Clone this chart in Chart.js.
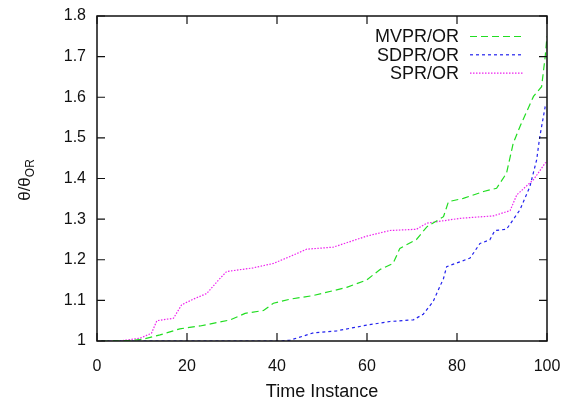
<!DOCTYPE html>
<html>
<head>
<meta charset="utf-8">
<script src="https://cdn.jsdelivr.net/npm/chart.js@4/dist/chart.umd.min.js"></script>
<style>
    html, body { margin: 0; padding: 0; background: #fff; }
    #wrap { width: 568px; height: 403px; }
</style>
</head>
<body>
<div id="wrap"><canvas id="ratioChart" width="568" height="403"></canvas></div>
<script>
// time instances and ratios for each scheme
const mvprTime = [1, 3, 7, 10, 14, 18.4, 22.9, 29.6, 32.9, 37, 39.2, 42.9, 48.1, 55.5, 59.9, 62.9, 65.8, 67.3, 71, 73.3, 77, 78.1, 81.4, 85.9, 88.8, 91, 92.5, 94, 97, 98.8, 99.6, 100];
const mvprValue = [1, 1, 1.001, 1.004, 1.015, 1.03, 1.037, 1.052, 1.068, 1.075, 1.093, 1.103, 1.112, 1.132, 1.15, 1.176, 1.191, 1.228, 1.25, 1.281, 1.306, 1.343, 1.351, 1.368, 1.376, 1.413, 1.487, 1.528, 1.602, 1.626, 1.70, 1.75];

const sdprTime = [1, 41, 42.9, 48.1, 53.3, 59.9, 65.1, 70.3, 72.5, 74.7, 77, 77.7, 82.9, 85.1, 87.3, 88.4, 91, 94, 96.2, 97.7, 98.4, 99.6, 100];
const sdprValue = [1, 1, 1.002, 1.02, 1.025, 1.039, 1.048, 1.052, 1.066, 1.097, 1.154, 1.183, 1.204, 1.24, 1.249, 1.272, 1.275, 1.323, 1.38, 1.446, 1.503, 1.577, 1.58];

const sprTime = [1, 5, 9.6, 12.1, 13.3, 17, 18.8, 21.4, 24.4, 27, 28.8, 34.7, 39.2, 42.9, 46.6, 52.5, 59.9, 65.1, 71, 73.3, 80.7, 88.1, 91.8, 93.3, 97, 99.6, 100];
const sprValue = [1, 1, 1.007, 1.019, 1.05, 1.056, 1.089, 1.103, 1.117, 1.15, 1.171, 1.18, 1.191, 1.208, 1.226, 1.231, 1.258, 1.272, 1.275, 1.29, 1.302, 1.308, 1.321, 1.36, 1.397, 1.438, 1.44];

const seriesNames = ['MVPR/OR', 'SDPR/OR', 'SPR/OR'];
const seriesColors = ['#22dd22', '#2222ee', '#ee22ee'];
const seriesDashes = [[7, 4], [3, 3], [1.5, 1.5]];

const xTicks = [0, 20, 40, 60, 80, 100];
const yTicks = [1, 1.1, 1.2, 1.3, 1.4, 1.5, 1.6, 1.7, 1.8];

const FONT = 'Liberation Sans, Arial, sans-serif';

function toPoints(times, values) {
    return times.map((t, i) => ({x: t, y: values[i]}));
}

// gnuplot style frame with inward ticks on all four sides
const frameTicks = {
    id: 'frameTicks',
    afterDatasetsDraw(chart) {
        const {ctx, chartArea: a, scales} = chart;
        ctx.save();
        ctx.strokeStyle = '#111';
        ctx.lineWidth = 1.5;
        ctx.strokeRect(a.left, a.top, a.right - a.left, a.bottom - a.top);
        ctx.lineWidth = 1.2;
        ctx.beginPath();
        xTicks.forEach(v => {
            const px = scales.x.getPixelForValue(v);
            ctx.moveTo(px, a.bottom); ctx.lineTo(px, a.bottom - 8);
            ctx.moveTo(px, a.top); ctx.lineTo(px, a.top + 8);
        });
        yTicks.forEach(v => {
            const py = scales.y.getPixelForValue(v);
            ctx.moveTo(a.left, py); ctx.lineTo(a.left + 8, py);
            ctx.moveTo(a.right, py); ctx.lineTo(a.right - 8, py);
        });
        ctx.stroke();
        ctx.restore();
    }
};

// legend: label on the left, line sample on the right
const keyBox = {
    id: 'keyBox',
    afterDraw(chart) {
        const {ctx} = chart;
        ctx.save();
        ctx.font = '18px ' + FONT;
        ctx.textAlign = 'right';
        ctx.textBaseline = 'middle';
        chart.data.datasets.forEach((ds, i) => {
            const y = 36.5 + i * 18.3;
            ctx.fillStyle = '#111';
            ctx.fillText(ds.label, 459, y + 1);
            ctx.strokeStyle = ds.borderColor;
            ctx.lineWidth = 1.2;
            ctx.setLineDash(ds.borderDash);
            ctx.beginPath();
            ctx.moveTo(470, y);
            ctx.lineTo(524, y);
            ctx.stroke();
        });
        ctx.restore();
    }
};

// rotated y title with subscript
const yTitle = {
    id: 'yTitle',
    afterDraw(chart) {
        const {ctx} = chart;
        ctx.save();
        ctx.translate(30, 180);
        ctx.rotate(-Math.PI / 2);
        ctx.fillStyle = '#111';
        ctx.textBaseline = 'alphabetic';
        ctx.textAlign = 'left';
        const main = 'θ/θ';
        const sub = 'OR';
        ctx.font = '17px ' + FONT;
        const w1 = ctx.measureText(main).width;
        ctx.font = '12px ' + FONT;
        const w2 = ctx.measureText(sub).width;
        const x0 = -(w1 + w2) / 2;
        ctx.font = '17px ' + FONT;
        ctx.fillText(main, x0, 0);
        ctx.font = '12px ' + FONT;
        ctx.fillText(sub, x0 + w1, 4);
        ctx.restore();
    }
};

const datasets = [
    toPoints(mvprTime, mvprValue),
    toPoints(sdprTime, sdprValue),
    toPoints(sprTime, sprValue)
].map((pts, i) => ({
    label: seriesNames[i],
    data: pts,
    borderColor: seriesColors[i],
    borderDash: seriesDashes[i],
    borderWidth: 1.2,
    pointRadius: 0,
    fill: false,
    tension: 0
}));

new Chart(document.getElementById('ratioChart'), {
    type: 'line',
    data: {datasets},
    options: {
        responsive: false,
        animation: false,
        events: [],
        layout: {padding: {left: 0, top: 16, right: 21, bottom: 0}},
        plugins: {
            legend: {display: false},
            tooltip: {enabled: false}
        },
        scales: {
            x: {
                type: 'linear',
                min: 0,
                max: 100,
                afterFit: s => {
                    s.height = 62;
                    s.paddingLeft = 0;
                    s.paddingRight = 0;
                },
                afterBuildTicks: s => { s.ticks = xTicks.map(v => ({value: v})); },
                grid: {display: false, drawTicks: false},
                border: {display: false},
                ticks: {
                    color: '#111',
                    padding: 16,
                    maxRotation: 0,
                    font: {family: FONT, size: 16}
                },
                title: {
                    display: true,
                    text: 'Time Instance',
                    color: '#111',
                    padding: {top: 0, bottom: 0},
                    font: {family: FONT, size: 18}
                }
            },
            y: {
                type: 'linear',
                min: 1,
                max: 1.8,
                afterFit: s => {
                    s.width = 97;
                    s.paddingTop = 0;
                    s.paddingBottom = 0;
                },
                afterBuildTicks: s => { s.ticks = yTicks.map(v => ({value: v})); },
                grid: {display: false, drawTicks: false},
                border: {display: false},
                ticks: {
                    color: '#111',
                    padding: 11,
                    font: {family: FONT, size: 16},
                    callback: v => String(Math.round(v * 10) / 10)
                }
            }
        }
    },
    plugins: [frameTicks, keyBox, yTitle]
});
</script>
</body>
</html>
